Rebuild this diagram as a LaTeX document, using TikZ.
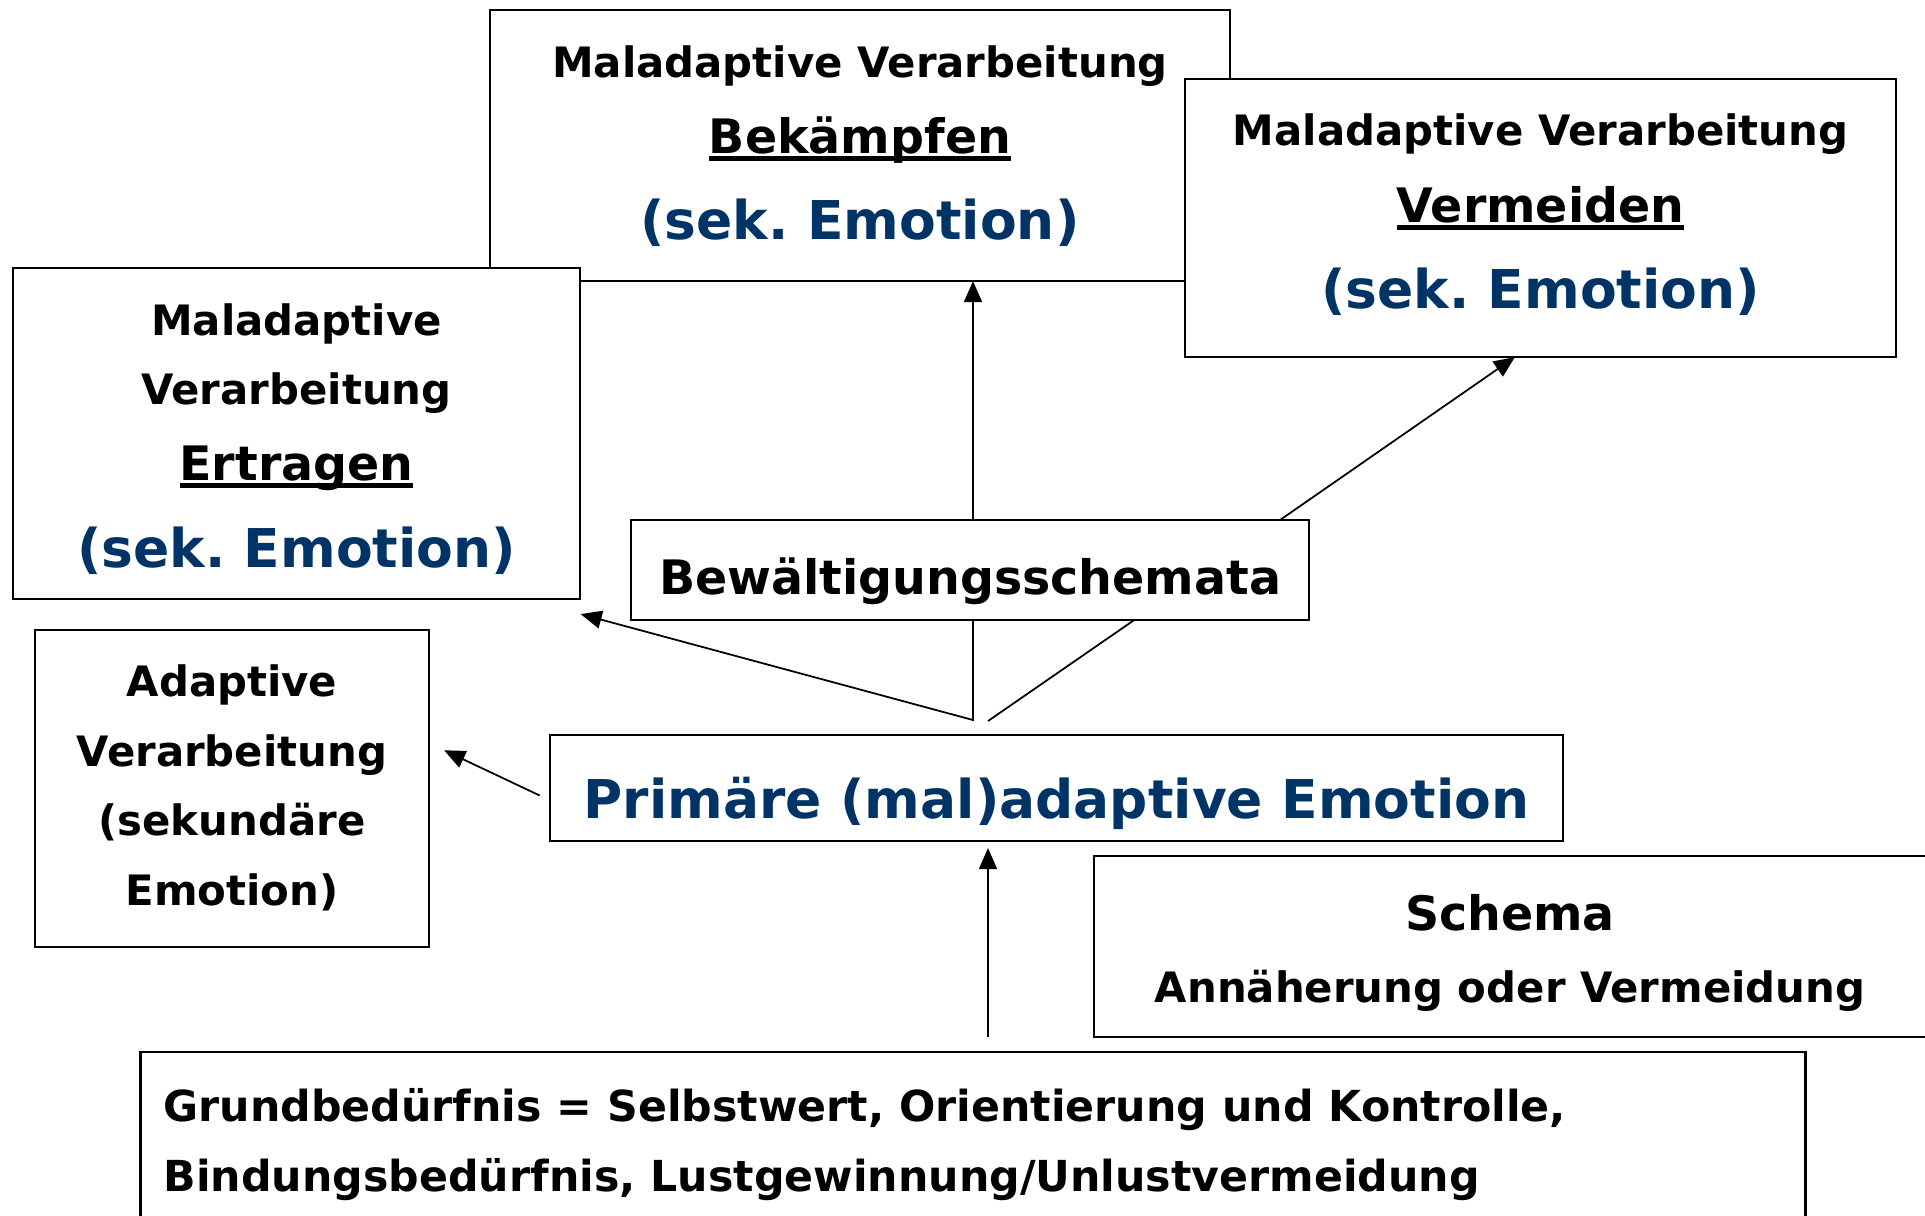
\documentclass[tikz,border=0pt]{standalone}
\usepackage{fontspec}
\setmainfont{DejaVu Sans}
\usetikzlibrary{arrows.meta,calc}
\definecolor{emoblue}{RGB}{0,51,102}
\newsavebox\ulbox
\newcommand\ulword[1]{\sbox\ulbox{#1}\rlap{\rule[-2.2pt]{\wd\ulbox}{1.4pt}}\usebox\ulbox}

\begin{document}
\begin{tikzpicture}[x=0.01cm,y=-0.01cm,>={Triangle[length=0.21cm,width=0.18cm]},
  box/.style={draw,fill=white,line width=0.6pt,inner sep=0pt,outer sep=0pt},
  txt/.style={inner sep=0pt,anchor=base,font=\bfseries\fontsize{11.9pt}{14pt}\selectfont},
  needtxt/.style={txt,anchor=base west,font=\bfseries\fontsize{12.15pt}{14pt}\selectfont},
  midtxt/.style={txt,font=\bfseries\fontsize{13.5pt}{16pt}\selectfont},
  bluetxt/.style={txt,text=emoblue,font=\bfseries\fontsize{15.2pt}{18pt}\selectfont},
  con/.style={line width=0.5pt}]
\useasboundingbox (0,0) rectangle (1925,1215);
\node[box,minimum width=7.40cm,minimum height=2.71cm] (bek) at (860,145.5) {};
\node[box,minimum width=5.66cm,minimum height=3.31cm] (ertr) at (296.5,433.5) {};
\node[box,minimum width=7.11cm,minimum height=2.78cm] (verm) at (1540.5,218) {};
\node[box,minimum width=6.78cm,minimum height=1.00cm] (bew) at (970,570) {};
\node[box,minimum width=3.93cm,minimum height=3.17cm] (adap) at (232,788.3) {};
\node[box,minimum width=10.13cm,minimum height=1.06cm] (prim) at (1056.5,788) {};
\node[box,minimum width=8.36cm,minimum height=1.81cm] (schema) at (1512,946.5) {};
\node[box,minimum width=16.64cm,minimum height=1.76cm] (grund) at (973,1140) {};

\node[txt] (bek1) at (860,77) {Maladaptive Verarbeitung};
\node[midtxt] (bek2) at (860,153.5) {\ulword{Bekämpfen}};
\node[bluetxt] (bek3) at (860,239) {(sek.\ Emotion)};
\node[txt] (verm1) at (1540.5,145) {Maladaptive Verarbeitung};
\node[midtxt] (verm2) at (1540.5,222) {\ulword{Vermeiden}};
\node[bluetxt] (verm3) at (1540.5,308) {(sek.\ Emotion)};
\node[txt] (ertr1) at (296.5,335) {Maladaptive};
\node[txt] (ertr2) at (296.5,404) {Verarbeitung};
\node[midtxt] (ertr3) at (296.5,480) {\ulword{Ertragen}};
\node[bluetxt] (ertr4) at (296.5,567) {(sek.\ Emotion)};
\node[midtxt] (bew1) at (970,594) {Bewältigungsschemata};
\node[txt] (adap1) at (232,696) {Adaptive};
\node[txt] (adap2) at (232,766) {Verarbeitung};
\node[txt] (adap3) at (232,835) {(sekundäre};
\node[txt] (adap4) at (232,905) {Emotion)};
\node[bluetxt] (prim1) at (1056.5,818) {Primäre (mal)adaptive Emotion};
\node[midtxt] (schema1) at (1510,930.5) {Schema};
\node[txt] (schema2) at (1510,1002) {Annäherung oder Vermeidung};
\node[needtxt] (grund1) at (163,1121) {Grundbedürfnis = Selbstwert, Orientierung und Kontrolle,};
\node[needtxt] (grund2) at (163,1191) {Bindungsbedürfnis, Lustgewinnung/Unlustvermeidung};

\coordinate (fork) at (973,720);
\coordinate (forkr) at (988,721);
\coordinate (need) at (988,1037);
\draw[con,->] (fork |- bew.north) -- (fork |- bek.south);
\draw[con,->] ($(bew.north west)!0.957!(bew.north east)$) -- ($(verm.south west)!0.464!(verm.south east)$);
\draw[con,->] (fork |- bew.south) -- (fork) -- ($(ertr.south east)+(1,15)$);
\draw[con] (forkr) -- ($(bew.south west)!0.742!(bew.south east)$);
\draw[con,->] ($(prim.west)+(-10,7.5)$) -- ($(adap.east)+(15.5,-38)$);
\draw[con,->,shorten >=0.07cm] (need) -- (need |- prim.south);
\end{tikzpicture}
\end{document}
